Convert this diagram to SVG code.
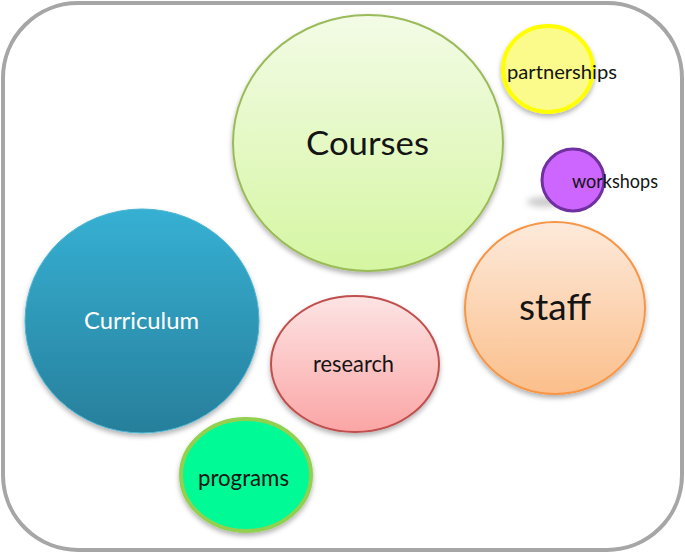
<svg xmlns="http://www.w3.org/2000/svg" width="685" height="554" viewBox="0 0 685 554">
<style>
.t{font-family:Lato,"Open Sans","Liberation Sans",sans-serif;fill:#141414;text-anchor:start}
.w{fill:#ffffff}
</style>
<defs>
<filter id="sh" x="-20%" y="-20%" width="140%" height="150%">
<feDropShadow dx="0" dy="3" stdDeviation="2.5" flood-color="#000" flood-opacity="0.3"/>
</filter>
<filter id="blur" x="-50%" y="-50%" width="200%" height="200%"><feGaussianBlur stdDeviation="3"/></filter>
<linearGradient id="gC" x1="0" y1="0" x2="0" y2="1"><stop offset="0" stop-color="#f3fbe6"/><stop offset="1" stop-color="#d5f6a2"/></linearGradient>
<linearGradient id="gCu" x1="0" y1="0" x2="0" y2="1"><stop offset="0" stop-color="#36b0d3"/><stop offset="1" stop-color="#277f9b"/></linearGradient>
<linearGradient id="gR" x1="0" y1="0" x2="0" y2="1"><stop offset="0" stop-color="#fde4e4"/><stop offset="1" stop-color="#fba5a5"/></linearGradient>
<linearGradient id="gS" x1="0" y1="0" x2="0" y2="1"><stop offset="0" stop-color="#fdeadb"/><stop offset="1" stop-color="#fbbf8b"/></linearGradient>
</defs>
<rect x="3" y="3" width="679" height="547" rx="75" ry="75" fill="#ffffff" stroke="#a6a6a6" stroke-width="4"/>
<g id="connectors"></g>
<g id="courses">
<ellipse cx="368" cy="143" rx="135" ry="128" fill="url(#gC)" stroke="#9bbb59" stroke-width="2" filter="url(#sh)"/>
<text class="t" x="306" y="155" font-size="33" textLength="123" lengthAdjust="spacingAndGlyphs">Courses</text>
</g>
<g id="partnerships">
<ellipse cx="548" cy="69" rx="45" ry="43" fill="#fbfb8c" stroke="#ffff00" stroke-width="4" filter="url(#sh)"/>
<text class="t" x="507" y="79" font-size="19" textLength="110" lengthAdjust="spacingAndGlyphs">partnerships</text>
</g>
<g id="workshops">
<ellipse cx="545" cy="202" rx="18" ry="5" fill="#8a8a8a" opacity="0.45" filter="url(#blur)"/>
<ellipse cx="573" cy="180" rx="31" ry="31" fill="#cc66ff" stroke="#7030a0" stroke-width="3"/>
<text class="t" x="572" y="188" font-size="19" textLength="86" lengthAdjust="spacingAndGlyphs">workshops</text>
</g>
<g id="staff">
<ellipse cx="555" cy="308" rx="90" ry="86" fill="url(#gS)" stroke="#f79646" stroke-width="2" filter="url(#sh)"/>
<text class="t" x="519" y="320" font-size="37" textLength="72" lengthAdjust="spacingAndGlyphs">staff</text>
</g>
<g id="curriculum">
<ellipse cx="142" cy="321" rx="117" ry="112" fill="url(#gCu)" stroke="#4bb5d2" stroke-width="1" filter="url(#sh)"/>
<text class="t w" x="84" y="329" font-size="23" textLength="115" lengthAdjust="spacingAndGlyphs">Curriculum</text>
</g>
<g id="research">
<ellipse cx="355" cy="364" rx="84" ry="68" fill="url(#gR)" stroke="#c0504d" stroke-width="2" filter="url(#sh)"/>
<text class="t" x="313" y="372" font-size="23" textLength="81" lengthAdjust="spacingAndGlyphs">research</text>
</g>
<g id="programs">
<ellipse cx="246" cy="475" rx="65" ry="56" fill="#00fa96" stroke="#92d050" stroke-width="4" filter="url(#sh)"/>
<text class="t" x="198" y="486" font-size="23" textLength="91" lengthAdjust="spacingAndGlyphs">programs</text>
</g>
</svg>
